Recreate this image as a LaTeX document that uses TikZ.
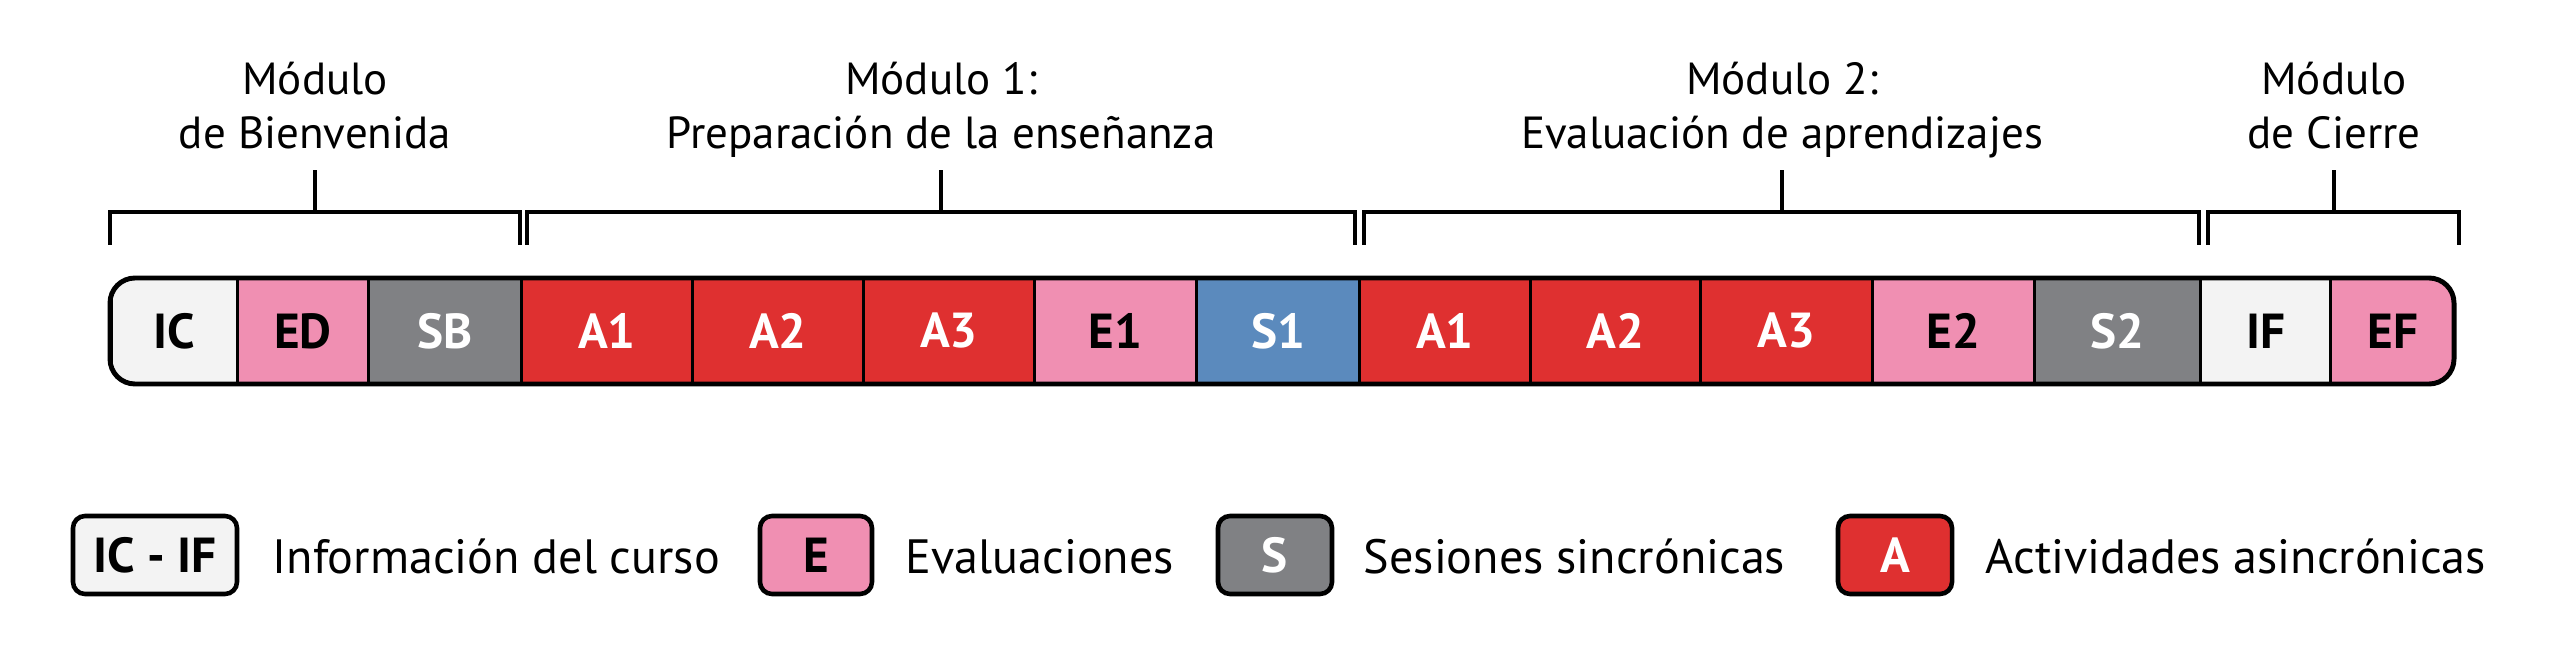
\documentclass[tikz,border=0pt]{standalone}
\usepackage{fontspec}
\setmainfont{PT Sans}
\usetikzlibrary{positioning}
\definecolor{infogray}{RGB}{243,243,243}
\definecolor{evalpink}{RGB}{240,143,178}
\definecolor{syncgray}{RGB}{128,129,132}
\definecolor{actred}{RGB}{223,48,48}
\definecolor{syncblue}{RGB}{91,138,189}
\tikzset{
  cell/.style={draw, line width=0.85pt, anchor=west, minimum height=1.06cm, inner sep=0pt,
    font=\bfseries\fontsize{14}{16}\selectfont},
  bracket/.style={line width=1.1pt},
  modtitle/.style={align=center, inner sep=0pt, anchor=base, font=\fontsize{12.8}{15.6}\selectfont},
  legbox/.style={draw, line width=1.3pt, rounded corners=0.12cm, minimum height=0.78cm, inner sep=0pt,
    font=\bfseries\fontsize{14}{16}\selectfont},
  legtext/.style={inner sep=0pt, anchor=base west, font=\fontsize{13.7}{16}\selectfont}
}
\begin{document}
\begin{tikzpicture}
    \useasboundingbox (0,0) rectangle (25.5,6.58);

    % module titles
    \node[modtitle] (t0) at (3.15,5.09) {Módulo\\de Bienvenida};
    \node[modtitle] (t1) at (9.41,5.09) {Módulo 1:\\Preparación de la enseñanza};
    \node[modtitle] (t2) at (17.82,5.09) {Módulo 2:\\Evaluación de aprendizajes};
    \node[modtitle] (t3) at (23.34,5.09) {Módulo\\de Cierre};

    % brackets
    \draw[bracket] (1.10,4.13) |- (5.20,4.46) -- (5.20,4.13); \draw[bracket] (3.15,4.46) -- (3.15,4.88);
    \draw[bracket] (5.27,4.13) |- (13.55,4.46) -- (13.55,4.13); \draw[bracket] (9.41,4.46) -- (9.41,4.88);
    \draw[bracket] (13.64,4.13) |- (21.99,4.46) -- (21.99,4.13); \draw[bracket] (17.82,4.46) -- (17.82,4.88);
    \draw[bracket] (22.08,4.13) |- (24.59,4.46) -- (24.59,4.13); \draw[bracket] (23.34,4.46) -- (23.34,4.88);

    % course bar
    \begin{scope}
    \clip[rounded corners=0.25cm] (1.10,2.74) rectangle (24.54,3.80);
    \node[cell, fill=infogray, minimum width=1.26cm] (ic) at (1.10,3.27) {IC};
    \node[cell, fill=evalpink, minimum width=1.31cm] (ed) at (2.36,3.27) {ED};
    \node[cell, fill=syncgray, text=white, minimum width=1.53cm] (sb) at (3.67,3.27) {SB};
    \node[cell, fill=actred, text=white, minimum width=1.71cm] (a1) at (5.20,3.27) {A1};
    \node[cell, fill=actred, text=white, minimum width=1.71cm] (a2) at (6.91,3.27) {A2};
    \node[cell, fill=actred, text=white, minimum width=1.71cm] (a3) at (8.62,3.27) {A3};
    \node[cell, fill=evalpink, minimum width=1.62cm] (e1) at (10.33,3.27) {E1};
    \node[cell, fill=syncblue, text=white, minimum width=1.63cm] (s1) at (11.95,3.27) {S1};
    \node[cell, fill=actred, text=white, minimum width=1.71cm] (b1) at (13.58,3.27) {A1};
    \node[cell, fill=actred, text=white, minimum width=1.70cm] (b2) at (15.29,3.27) {A2};
    \node[cell, fill=actred, text=white, minimum width=1.72cm] (b3) at (16.99,3.27) {A3};
    \node[cell, fill=evalpink, minimum width=1.62cm] (e2) at (18.71,3.27) {E2};
    \node[cell, fill=syncgray, text=white, minimum width=1.66cm] (s2) at (20.33,3.27) {S2};
    \node[cell, fill=infogray, minimum width=1.30cm] (if) at (21.99,3.27) {IF};
    \node[cell, fill=evalpink, minimum width=1.25cm] (ef) at (23.29,3.27) {EF};
    \end{scope}
    \draw[line width=1.4pt, rounded corners=0.25cm] (1.10,2.74) rectangle (24.54,3.80); % outline

    % legend
    \node[legbox, fill=infogray, minimum width=1.64cm] (lic) at (1.55,1.03) {IC - IF};
    \node[legtext] (tic) at (2.72,0.85) {Información del curso};
    \node[legbox, fill=evalpink, minimum width=1.12cm] (le) at (8.16,1.03) {E};
    \node[legtext] (te) at (9.05,0.85) {Evaluaciones};
    \node[legbox, fill=syncgray, text=white, minimum width=1.14cm] (ls) at (12.75,1.03) {S};
    \node[legtext] (ts) at (13.63,0.85) {Sesiones sincrónicas};
    \node[legbox, fill=actred, text=white, minimum width=1.14cm] (la) at (18.95,1.03) {A};
    \node[legtext] (ta) at (19.85,0.85) {Actividades asincrónicas};
\end{tikzpicture}
\end{document}
